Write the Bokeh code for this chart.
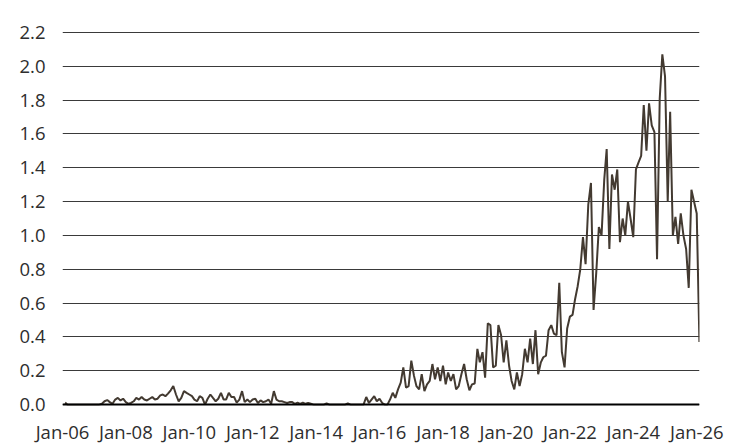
import pandas as pd
from datetime import datetime
from bokeh.plotting import figure
from bokeh.models import FixedTicker, Span, Range1d, NumeralTickFormatter
from bokeh.embed import file_html
from bokeh.resources import INLINE

# Monthly series, Jan-2006 .. Jan-2026 (one row per year)
values = [
    0.012, 0, 0, 0, 0, 0, 0, 0, 0, 0, 0, 0,                                  # 2006
    0, 0, 0.005, 0.02, 0.027, 0.015, 0.005, 0.03, 0.04, 0.025, 0.035, 0.015, # 2007
    0.005, 0.01, 0.02, 0.04, 0.03, 0.045, 0.03, 0.025, 0.035, 0.045, 0.03, 0.035,  # 2008
    0.055, 0.06, 0.05, 0.065, 0.085, 0.11, 0.06, 0.02, 0.04, 0.08, 0.07, 0.06,     # 2009
    0.05, 0.03, 0.02, 0.05, 0.04, 0.0, 0.035, 0.06, 0.04, 0.02, 0.035, 0.07,       # 2010
    0.03, 0.03, 0.07, 0.045, 0.045, 0.012, 0.03, 0.08, 0.015, 0.03, 0.015, 0.03,   # 2011
    0.035, 0.01, 0.025, 0.015, 0.02, 0.03, 0.005, 0.08, 0.03, 0.02, 0.02, 0.015,   # 2012
    0.01, 0.015, 0.015, 0.005, 0.012, 0.005, 0.012, 0.005, 0.01, 0.005, 0, 0,      # 2013
    0, 0, 0, 0.008, 0, 0, 0, 0, 0, 0, 0, 0.008,                                    # 2014
    0, 0, 0, 0, 0, 0, 0.045, 0.01, 0.03, 0.05, 0.02, 0.035,                        # 2015
    0.01, 0.0, 0.0, 0.03, 0.07, 0.04, 0.09, 0.13, 0.22, 0.10, 0.11, 0.26,          # 2016
    0.17, 0.11, 0.09, 0.18, 0.08, 0.12, 0.14, 0.24, 0.15, 0.22, 0.14, 0.23,        # 2017
    0.12, 0.19, 0.14, 0.18, 0.09, 0.11, 0.18, 0.24, 0.15, 0.085, 0.12, 0.125,      # 2018
    0.33, 0.25, 0.31, 0.16, 0.48, 0.47, 0.22, 0.23, 0.47, 0.41, 0.25, 0.38,        # 2019
    0.23, 0.14, 0.09, 0.19, 0.11, 0.18, 0.33, 0.25, 0.39, 0.24, 0.44, 0.18,        # 2020
    0.25, 0.28, 0.29, 0.44, 0.47, 0.42, 0.41, 0.72, 0.31, 0.22, 0.45, 0.52,        # 2021
    0.53, 0.62, 0.70, 0.80, 0.99, 0.83, 1.18, 1.31, 0.56, 0.78, 1.05, 1.00,        # 2022
    1.33, 1.51, 0.92, 1.36, 1.27, 1.39, 0.96, 1.10, 1.00, 1.20, 1.10, 0.99,        # 2023
    1.39, 1.43, 1.47, 1.77, 1.50, 1.78, 1.65, 1.61, 0.86, 1.81, 2.07, 1.94,        # 2024
    1.20, 1.73, 1.00, 1.11, 0.95, 1.13, 1.00, 0.92, 0.69, 1.27, 1.20, 1.13,        # 2025
    0.37,                                                                          # 2026
]
first_month_end = "2006-01-31"

tick_years = [2006, 2008, 2010, 2012, 2014, 2016, 2018, 2020, 2022, 2024, 2026]
tick_labels = ["Jan-06", "Jan-08", "Jan-10", "Jan-12", "Jan-14", "Jan-16",
               "Jan-18", "Jan-20", "Jan-22", "Jan-24", "Jan-26"]
y_ticks = [0.0, 0.2, 0.4, 0.6, 0.8, 1.0, 1.2, 1.4, 1.6, 1.8, 2.0, 2.2]

dates = pd.date_range(first_month_end, periods=len(values), freq="ME")

FONT = "Open Sans"
TEXT_COLOR = "#2e2e2e"

p = figure(frame_width=637, frame_height=374,
           x_axis_type="datetime",
           x_range=Range1d(datetime(2006, 1, 1), datetime(2026, 2, 1)),
           y_range=Range1d(-0.005, 2.205),
           output_backend="svg", toolbar_location=None,
           min_border_left=62, min_border_right=44,
           min_border_top=31, min_border_bottom=30)

p.outline_line_color = None
p.background_fill_color = "white"
p.border_fill_color = "white"

# y grid
p.ygrid.ticker = FixedTicker(ticks=y_ticks)
p.ygrid.grid_line_color = "#3a3a3a"
p.ygrid.grid_line_width = 1
p.xgrid.grid_line_color = None

# x axis
tick_ms = [datetime(y, 1, 1).timestamp() * 1000 for y in tick_years]
p.xaxis.ticker = FixedTicker(ticks=tick_ms)
p.xaxis.major_label_overrides = {t: lab for t, lab in zip(tick_ms, tick_labels)}
p.xaxis.major_label_standoff = 13

# y axis
p.yaxis.ticker = FixedTicker(ticks=y_ticks)
p.yaxis.formatter = NumeralTickFormatter(format="0.0")
p.yaxis.major_label_standoff = 17

for ax in (p.xaxis, p.yaxis):
    ax.axis_line_color = None
    ax.major_tick_line_color = None
    ax.minor_tick_line_color = None
    ax.major_tick_out = 0
    ax.major_tick_in = 0
    ax.minor_tick_out = 0
    ax.minor_tick_in = 0
    ax.major_label_text_font = FONT
    ax.major_label_text_font_size = "18.5px"
    ax.major_label_text_color = TEXT_COLOR

p.line(dates, values, line_color="#433a31", line_width=2)

p.add_layout(Span(location=0, dimension="width", line_color="black", line_width=2.5))

open("out.html", "w").write(file_html(p, INLINE))
